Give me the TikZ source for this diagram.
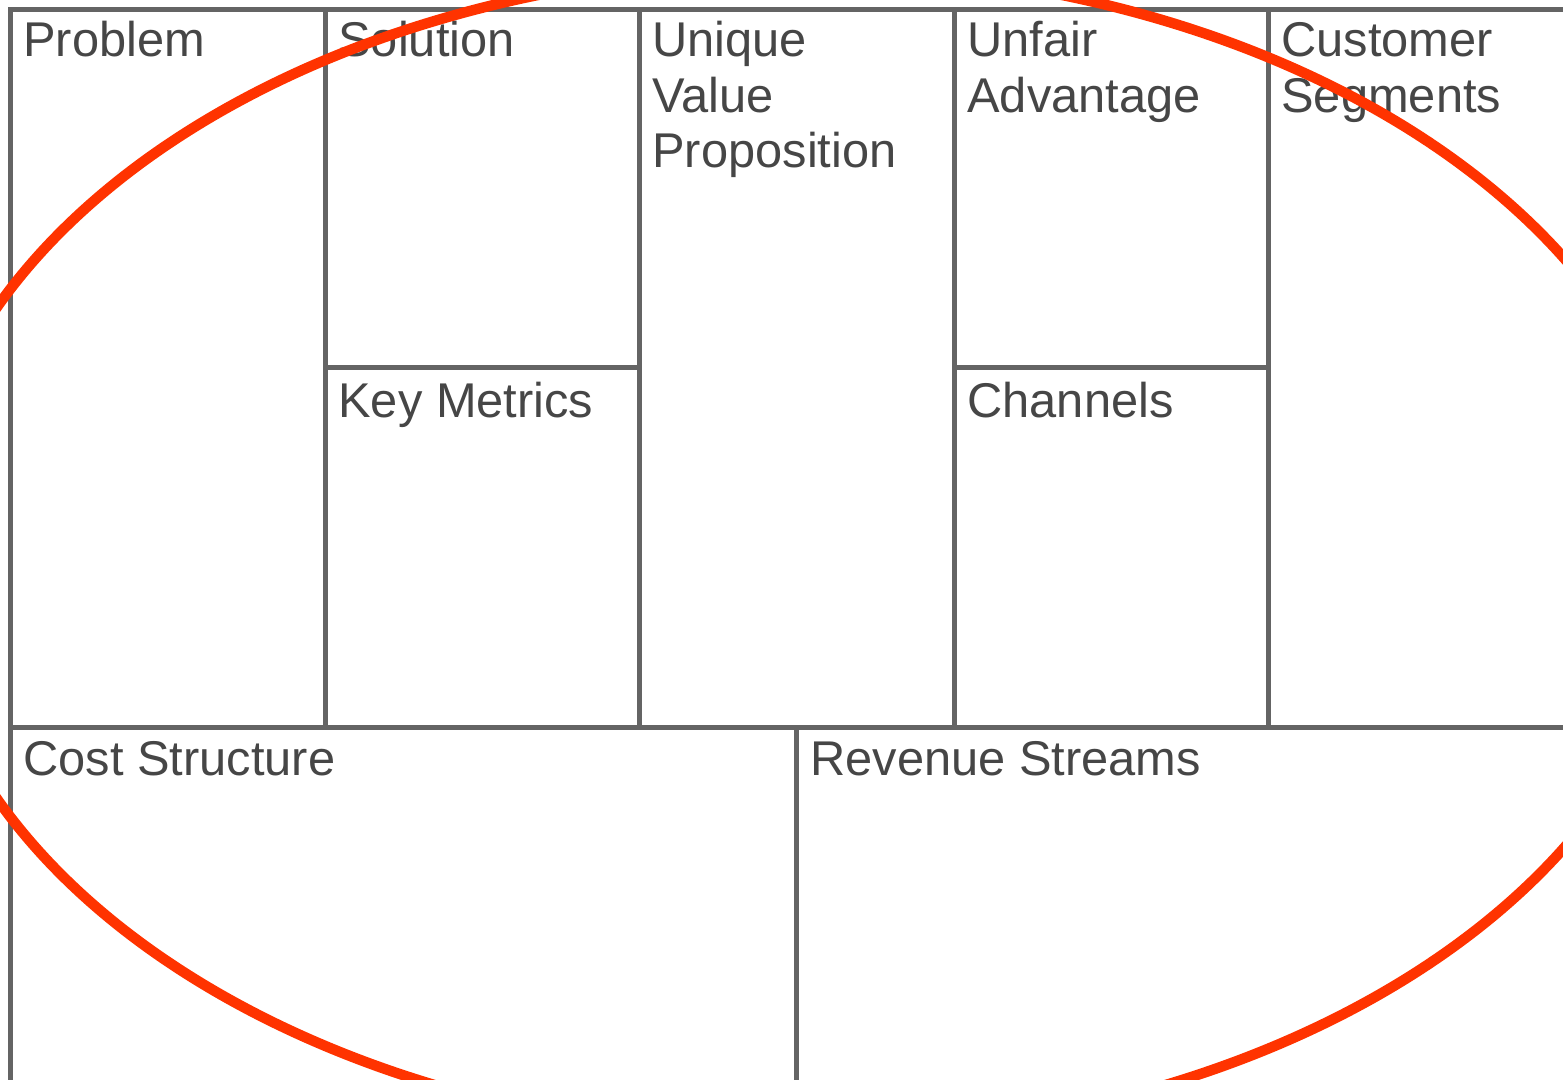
\documentclass[tikz,border=0pt]{standalone}
\usepackage{fontspec}
\setmainfont{Liberation Sans}
\definecolor{gridgray}{HTML}{646464}
\definecolor{labelgray}{HTML}{464646}
\definecolor{markerred}{HTML}{FF3300}
\begin{document}
\begin{tikzpicture}[x=0.5pt,y=-0.5pt,
  gridline/.style={draw=gridgray,line width=2.5pt,line cap=rect},
  cell/.style={anchor=base west,inner sep=0pt,text=labelgray,
    font=\fontsize{24.4pt}{27.75pt}\selectfont},
  circled/.style={draw=markerred,line width=5.2pt}]
  % canvas
  \useasboundingbox (0,0) rectangle (1563,1080);
  \fill[white] (0,0) rectangle (1563,1080);
  \clip (0,0) rectangle (1563,1080);

  % outer frame and column dividers of the canvas
  \draw[gridline] (1600,10) -- (10,10) -- (10,1120);
  \foreach \cx in {325,639,954,1268} \draw[gridline] (\cx,10) -- (\cx,727);
  \draw[gridline] (325,368) -- (639,368);
  \draw[gridline] (954,368) -- (1268,368);
  \draw[gridline] (10,727) -- (1600,727);
  \draw[gridline] (796,727) -- (796,1120);

  % block titles
  \node[cell] (problem)  at (23,57)   {Problem};
  \node[cell] (solution) at (338,57)  {Solution};
  \node[cell] (uvp)      at (652,57)  {\begin{tabular}[t]{@{}l@{}}Unique\\Value\\Proposition\end{tabular}};
  \node[cell] (unfair)   at (967,57)  {\begin{tabular}[t]{@{}l@{}}Unfair\\Advantage\end{tabular}};
  \node[cell] (segments) at (1281,57) {\begin{tabular}[t]{@{}l@{}}Customer\\Segments\end{tabular}};
  \node[cell] (metrics)  at (338,417) {Key Metrics};
  \node[cell] (channels) at (967,417) {Channels};
  \node[cell] (cost)     at (23,775)  {Cost Structure};
  \node[cell] (revenue)  at (810,775) {Revenue Streams};

  % red marker loop drawn over the canvas
  \draw[circled] (800,553) ellipse [x radius=442.5pt, y radius=292pt];
\end{tikzpicture}
\end{document}
